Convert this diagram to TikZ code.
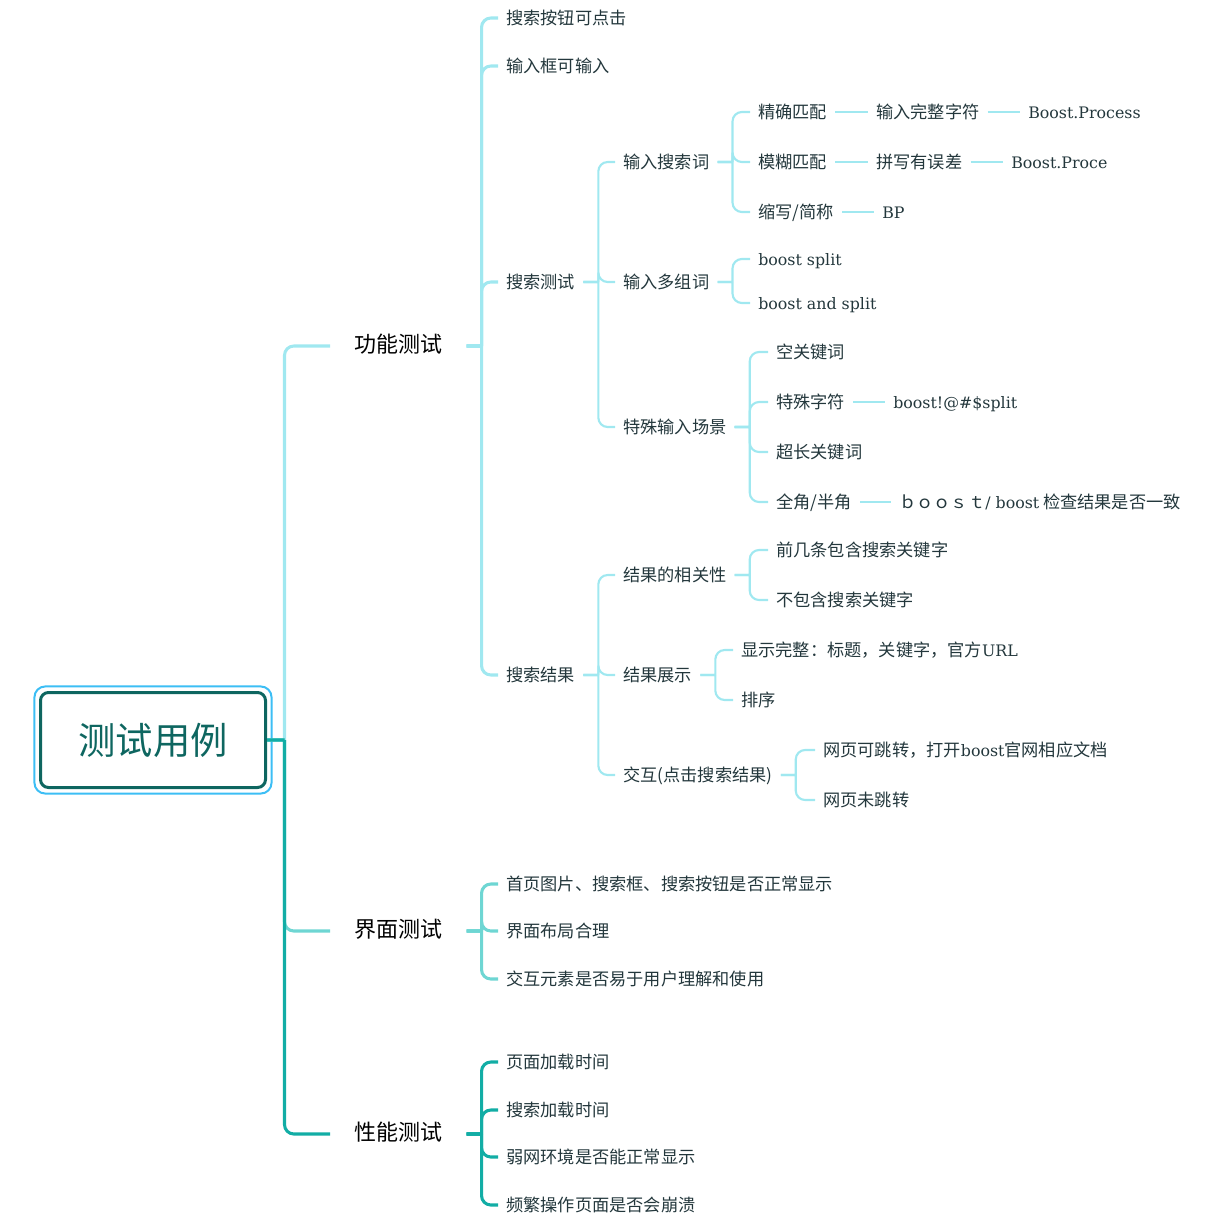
\documentclass[tikz,border=0pt]{standalone}
\usepackage{fontspec}
\setmainfont{DejaVu Serif}[Scale=0.92]
\newfontfamily\cjk{Noto Sans CJK SC}
\usetikzlibrary{fit}
\definecolor{lightcyan}{RGB}{160,232,240}
\definecolor{midteal}{RGB}{110,214,211}
\definecolor{deepteal}{RGB}{18,173,165}
\definecolor{rootline}{RGB}{14,102,96}
\definecolor{rootframe}{RGB}{60,190,245}
\definecolor{leafink}{RGB}{35,55,60}
\newcommand\en[1]{{\rmfamily #1}}

\begin{document}
\begin{tikzpicture}[x=0.75pt,y=-0.75pt,font=\cjk]
  \tikzstyle{topic}=[anchor=west,inner xsep=18pt,inner ysep=0pt,text height=1.05em,text depth=.04em,font=\cjk\fontsize{16.5}{20}\selectfont]
  \tikzstyle{leaf}=[anchor=west,inner xsep=6pt,inner ysep=0pt,text height=1.05em,text depth=.04em,text=leafink,font=\cjk\fontsize{12.9}{15}\selectfont]
  \tikzstyle{lnk}=[line width=1.6pt,rounded corners=7pt]
  \tikzstyle{lnkb}=[line width=2.3pt,rounded corners=7pt]
  \useasboundingbox (0,0) rectangle (1220,1225);
  \node[draw=rootline,line width=2.25pt,rounded corners=6pt,minimum width=168.75pt,minimum height=71.25pt,text=rootline,font=\cjk\fontsize{28}{32}\selectfont] (root) at (153,740) {测试用例};
  \node[draw=rootframe,line width=1.5pt,rounded corners=8pt,fit=(root),inner sep=3.4pt] (rootbox) {};

  \node[topic] (func) at (330,346) {功能测试};
  \node[topic] (ui) at (330,931) {界面测试};
  \node[topic] (perf) at (330,1134) {性能测试};

  \node[leaf] (f1) at (498,18) {搜索按钮可点击};
  \node[leaf] (f2) at (498,66) {输入框可输入};
  \node[leaf] (f3) at (498,282) {搜索测试};
  \node[leaf] (f4) at (498,675) {搜索结果};

  \node[leaf] (t1) at (615,162) {输入搜索词};
  \node[leaf] (t2) at (615,282) {输入多组词};
  \node[leaf] (t3) at (615,427) {特殊输入场景};

  \node[leaf] (t11) at (750,112) {精确匹配};
  \node[leaf] (t12) at (750,162) {模糊匹配};
  \node[leaf] (t13) at (750,212) {缩写/简称};
  \node[leaf] (t111) at (868,112) {输入完整字符};
  \node[leaf] (t112) at (1020,112) {\en{Boost.Process}};
  \node[leaf] (t121) at (868,162) {拼写有误差};
  \node[leaf] (t122) at (1003,162) {\en{Boost.Proce}};
  \node[leaf] (t131) at (874,212) {\en{BP}};

  \node[leaf] (t21) at (750,259) {\en{boost split}};
  \node[leaf] (t22) at (750,303) {\en{boost and split}};

  \node[leaf] (t31) at (768,352) {空关键词};
  \node[leaf] (t32) at (768,402) {特殊字符};
  \node[leaf] (t33) at (768,452) {超长关键词};
  \node[leaf] (t34) at (768,502) {全角/半角};
  \node[leaf] (t321) at (885,402) {\en{boost!@\#\$split}};
  \node[leaf] (t341) at (891,502) {ｂｏｏｓｔ\en{/ boost} 检查结果是否一致};

  \node[leaf] (r1) at (615,575) {结果的相关性};
  \node[leaf] (r2) at (615,675) {结果展示};
  \node[leaf] (r3) at (615,775) {交互(点击搜索结果)};
  \node[leaf] (r11) at (768,550) {前几条包含搜索关键字};
  \node[leaf] (r12) at (768,600) {不包含搜索关键字};
  \node[leaf] (r21) at (733,650) {显示完整：标题，关键字，官方\en{URL}};
  \node[leaf] (r22) at (733,700) {排序};
  \node[leaf] (r31) at (815,750) {网页可跳转，打开\en{boost}官网相应文档};
  \node[leaf] (r32) at (815,800) {网页未跳转};

  \node[leaf] (u1) at (498,884) {首页图片、搜索框、搜索按钮是否正常显示};
  \node[leaf] (u2) at (498,931) {界面布局合理};
  \node[leaf] (u3) at (498,979) {交互元素是否易于用户理解和使用};

  \node[leaf] (p1) at (498,1062) {页面加载时间};
  \node[leaf] (p2) at (498,1110) {搜索加载时间};
  \node[leaf] (p3) at (498,1157) {弱网环境是否能正常显示};
  \node[leaf] (p4) at (498,1205) {频繁操作页面是否会崩溃};

  \draw[lnkb,lightcyan] (root.east) -- ++(17.5,0) ++(0,0) |- (func.west);
  \draw[lnkb,midteal] (root.east) -- ++(17.5,0) ++(0,0) |- (ui.west);
  \draw[lnkb,deepteal] (root.east) -- ++(17.5,0) ++(0,0) |- (perf.west);

  \foreach \c in {f1,f2,f3,f4}
    \draw[lnkb,lightcyan] (func.east) -- ++(15,0) ++(0,0) |- (\c.west);
  \foreach \c in {t1,t2,t3}
    \draw[lnk,lightcyan] (f3.east) -- ++(15,0) ++(0,0) |- (\c.west);
  \foreach \c in {t11,t12,t13}
    \draw[lnk,lightcyan] (t1.east) -- ++(15,0) ++(0,0) |- (\c.west);
  \foreach \c in {t21,t22}
    \draw[lnk,lightcyan] (t2.east) -- ++(15,0) ++(0,0) |- (\c.west);
  \foreach \c in {t31,t32,t33,t34}
    \draw[lnk,lightcyan] (t3.east) -- ++(15,0) ++(0,0) |- (\c.west);
  \draw[lnk,lightcyan] (t11) -- (t111); \draw[lnk,lightcyan] (t111) -- (t112);
  \draw[lnk,lightcyan] (t12) -- (t121); \draw[lnk,lightcyan] (t121) -- (t122);
  \draw[lnk,lightcyan] (t13) -- (t131);
  \draw[lnk,lightcyan] (t32) -- (t321); \draw[lnk,lightcyan] (t34) -- (t341);

  \foreach \c in {r1,r2,r3}
    \draw[lnk,lightcyan] (f4.east) -- ++(15,0) ++(0,0) |- (\c.west);
  \foreach \c in {r11,r12}
    \draw[lnk,lightcyan] (r1.east) -- ++(15,0) ++(0,0) |- (\c.west);
  \foreach \c in {r21,r22}
    \draw[lnk,lightcyan] (r2.east) -- ++(15,0) ++(0,0) |- (\c.west);
  \foreach \c in {r31,r32}
    \draw[lnk,lightcyan] (r3.east) -- ++(15,0) ++(0,0) |- (\c.west);

  \foreach \c in {u1,u2,u3}
    \draw[lnkb,midteal] (ui.east) -- ++(15,0) ++(0,0) |- (\c.west);
  \foreach \c in {p1,p2,p3,p4}
    \draw[lnkb,deepteal] (perf.east) -- ++(15,0) ++(0,0) |- (\c.west);
\end{tikzpicture}
\end{document}
